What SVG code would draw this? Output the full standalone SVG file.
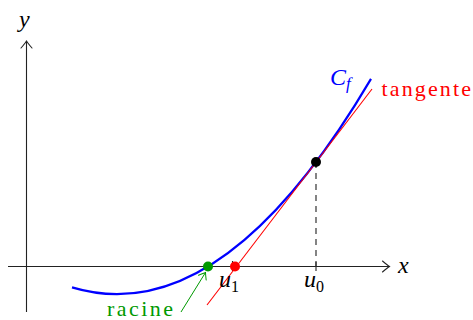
<svg xmlns="http://www.w3.org/2000/svg" width="473" height="320" viewBox="0 0 473 320">
  <style>
    .axis { stroke: #222; stroke-width: 1.1; fill: none; }
    text { font-family: 'Liberation Serif', 'Times New Roman', Times, 'DejaVu Serif', 'Noto Serif', FreeSerif, serif; }
  </style>
  <defs>
    <marker id="to" markerUnits="userSpaceOnUse" markerWidth="14" markerHeight="14" refX="0.5" refY="0" viewBox="-8 -7 10 14" orient="auto">
      <path d="M -6.5 -5.5 Q -1.5 -1.2 0.5 0 Q -1.5 1.2 -6.5 5.5" fill="none" stroke="#222" stroke-width="1.1" stroke-linecap="round"/>
    </marker>
    <marker id="toGreen" markerUnits="userSpaceOnUse" markerWidth="12" markerHeight="12" refX="0.5" refY="0" viewBox="-7 -6 9 12" orient="auto">
      <path d="M -5.5 -4.5 Q -1.2 -1.1 0.5 0 Q -1.2 1.1 -5.5 4.5" fill="none" stroke="#009900" stroke-width="1" stroke-linecap="round"/>
    </marker>
  </defs>

  <g id="axes">
    <line class="axis" x1="8" y1="266.5" x2="389.5" y2="266.5" marker-end="url(#to)"/>
    <line class="axis" x1="26.5" y1="312" x2="26.5" y2="41" marker-end="url(#to)"/>
    <line class="axis" x1="232.5" y1="261" x2="232.5" y2="271"/>
    <line class="axis" x1="316" y1="262" x2="316" y2="271"/>
  </g>

  <g id="labels-axes" font-style="italic" font-size="24">
    <text x="19" y="27">y</text>
    <text x="398" y="273">x</text>
  </g>

  <g id="guide">
    <line x1="316" y1="162" x2="316" y2="266.5" stroke="#333" stroke-width="1.2" stroke-dasharray="6 5"/>
  </g>

  <g id="curve">
    <path d="M 72 287.4 Q 221.5 332.3 371 78.9" fill="none" stroke="#0000ff" stroke-width="2.2"/>
    <text x="330" y="85" fill="#0000ff" font-style="italic" font-size="24">C<tspan font-size="17" dy="4">f</tspan></text>
  </g>

  <g id="tangent">
    <line x1="207" y1="305" x2="372" y2="89" stroke="#ff0000" stroke-width="1.1"/>
    <text x="381.5" y="95.5" fill="#ff0000" font-size="22" textLength="89.5" lengthAdjust="spacing">tangente</text>
  </g>

  <g id="connectors">
    <line x1="181" y1="312" x2="205.5" y2="272.5" stroke="#009900" stroke-width="1" marker-end="url(#toGreen)"/>
  </g>

  <g id="racine">
    <circle cx="208" cy="266.5" r="5" fill="#009900"/>
    <text x="107" y="316" fill="#009900" font-size="22" textLength="66" lengthAdjust="spacing">racine</text>
  </g>

  <g id="u1">
    <circle cx="235" cy="266.5" r="5" fill="#ff0000"/>
    <text x="219" y="287" font-style="italic" font-size="24">u<tspan font-style="normal" font-size="16" dy="5">1</tspan></text>
  </g>

  <g id="u0">
    <circle cx="316" cy="162" r="5" fill="#000"/>
    <text x="304" y="287" font-style="italic" font-size="24">u<tspan font-style="normal" font-size="16" dy="5">0</tspan></text>
  </g>
</svg>
